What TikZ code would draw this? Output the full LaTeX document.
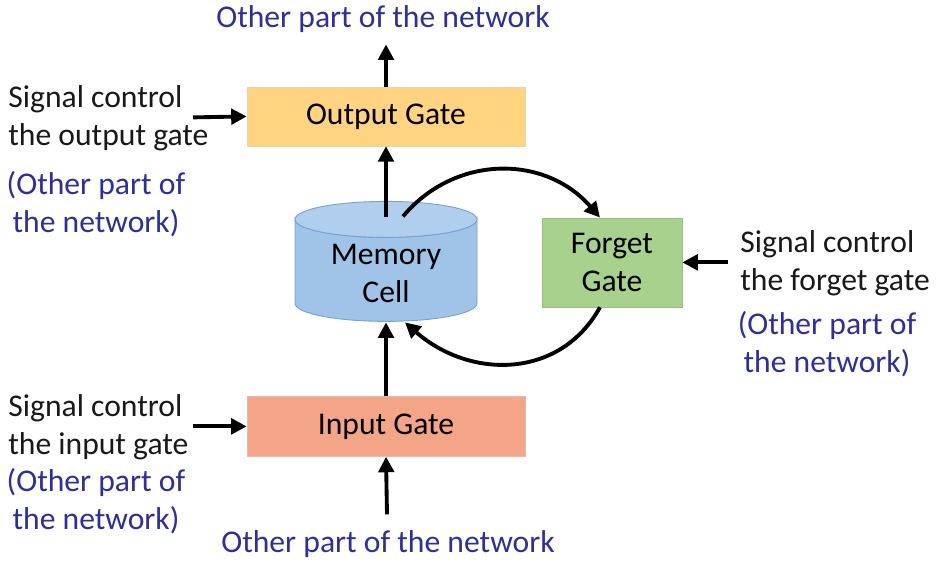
\documentclass[tikz,border=0pt]{standalone}
\usepackage{fontspec}
\setmainfont{Carlito}
\usetikzlibrary{arrows.meta,calc,positioning}
\definecolor{netblue}{RGB}{46,46,160}
\definecolor{outgatefill}{RGB}{255,212,128}
\definecolor{ingatefill}{RGB}{245,165,135}
\definecolor{forgetfill}{RGB}{169,209,142}
\definecolor{forgetdraw}{RGB}{150,190,125}
\definecolor{cellbody}{RGB}{160,195,232}
\definecolor{celltop}{RGB}{176,206,238}
\definecolor{celldraw}{RGB}{120,160,205}

\begin{document}
\begin{tikzpicture}[
    x=0.02cm, y=-0.02cm,
    gate/.style={rectangle, inner sep=0pt, font=\fontsize{18}{21.5}\selectfont, align=center},
    signal/.style={font=\fontsize{18}{21.5}\selectfont, align=left, text=black!90, inner sep=0pt},
    other/.style={font=\fontsize{18}{21.5}\selectfont, align=center, text=netblue},
    flow/.style={line width=2.2pt, -{Triangle[length=3.1mm, width=3.1mm]}},
    cell/.style={draw=celldraw, line width=0.5pt}
]

% Background
\fill[white] (0,0) rectangle (944,564);

% === Gates ===
\node[gate, fill=outgatefill, draw=outgatefill!85!black!60, minimum width=5.56cm, minimum height=1.18cm] (out) at (386,112) {Output Gate};
\node[gate, fill=ingatefill, draw=ingatefill!85!black!60, minimum width=5.56cm, minimum height=1.2cm] (in) at (386,422) {Input Gate};
\node[gate, fill=forgetfill, draw=forgetdraw, minimum width=2.8cm, minimum height=1.78cm] (fg) at (612,258) {Forget\\Gate};

% Memory cell (cylinder)
\filldraw[cell, fill=cellbody] (295,215) -- (295,299)
    arc[start angle=180, end angle=0, x radius=91, y radius=18] -- (477,215)
    arc[start angle=0, end angle=180, x radius=91, y radius=18] -- cycle;
\filldraw[cell, fill=celltop] (386,215) ellipse[x radius=91, y radius=18];
\node[gate] (memtext) at (386,269) {Memory\\Cell};

% === Texts ===
\node[other] (topnet) at (383,15) {Other part of the network};
\node[other] (botnet) at (388,540) {Other part of the network};

\node[signal, anchor=west] (outsig) at (8,114) {Signal control\\the output gate};
\node[other] (outnet) at (96,200) {(Other part of\\the network)};

\node[signal, anchor=west] (insig) at (8,423) {Signal control\\the input gate};
\node[other] (innet) at (96,497) {(Other part of\\the network)};

\node[signal, anchor=west] (fgsig) at (740,259) {Signal control\\the forget gate};
\node[other] (fgnet) at (827,340) {(Other part of\\the network)};

% === Connectors ===
\coordinate (outtop) at (386,40);
\coordinate (inbot) at (387,510);
\coordinate (outctl) at (193,113);
\coordinate (inctl) at (193,422);
\coordinate (fgctl) at (728,258);
\coordinate (memtop) at (386,213);
\coordinate (membot) at (386,318);
\coordinate (memout) at (403,212);
\coordinate (memin) at (405,318);

\draw[flow] (out.north) -- (outtop);
\draw[flow] (memtop) -- (out.south);
\draw[flow] (in.north) -- (membot);
\draw[flow] (inbot) -- (in.south);

\draw[flow] (outctl) -- (out.west);
\draw[flow] (inctl) -- (in.west);
\draw[flow] (fgctl) -- (fg.east);

% forget loop
\draw[flow] (memout) .. controls (455,150) and (545,150) .. ([xshift=-0.24cm]fg.north);
\draw[flow] ([xshift=-0.24cm]fg.south) .. controls (560,375) and (470,375) .. (memin);

\end{tikzpicture}
\end{document}
